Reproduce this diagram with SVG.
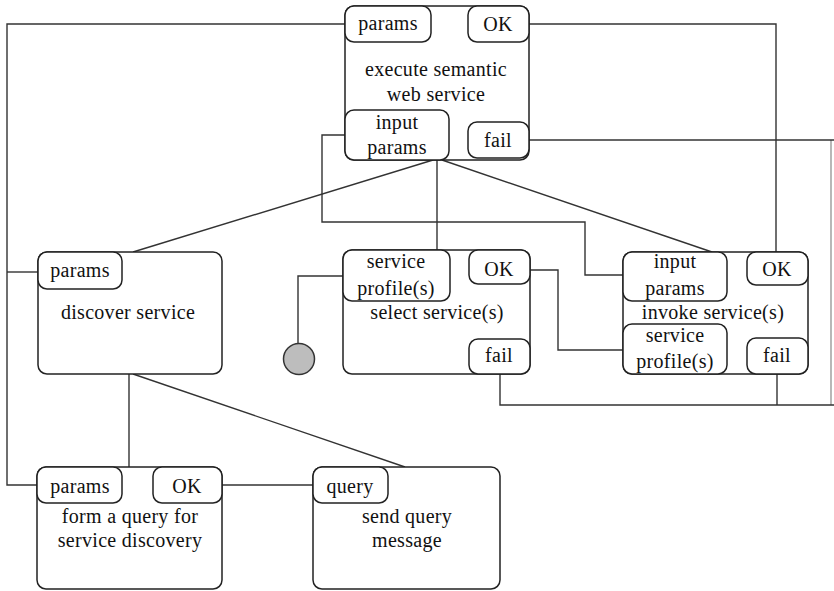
<svg xmlns="http://www.w3.org/2000/svg" width="834" height="591" viewBox="0 0 834 591">
<style>
.box{fill:#fff;stroke:#222;stroke-width:1.5}
.pin{fill:#fff;stroke:#222;stroke-width:1.5}
.ln{fill:none;stroke:#333;stroke-width:1.4}
text{font-family:"Liberation Serif","Times New Roman",serif;font-size:20px;letter-spacing:0.3px;fill:#111;text-anchor:middle}
</style>
<rect width="834" height="591" fill="#fff"/>
<g id="connectors">
<polyline class="ln" points="345,24 7,24 7,485 37,485"/>
<line class="ln" x1="7" y1="272" x2="38" y2="272"/>
<polyline class="ln" points="529,24 776,24 776,252"/>
<line class="ln" x1="529" y1="140" x2="834" y2="140"/>
<line class="ln" x1="831" y1="140" x2="831" y2="405" stroke-opacity="0.5"/>
<polyline class="ln" points="500,374 500,405 834,405"/>
<line class="ln" x1="777" y1="374" x2="777" y2="405"/>
<polyline class="ln" points="345,135 322,135 322,222 585,222 585,275 623,275"/>
<line class="ln" x1="433" y1="160" x2="133" y2="252"/>
<line class="ln" x1="437" y1="160" x2="437" y2="250"/>
<line class="ln" x1="442" y1="160" x2="712" y2="252"/>
<polyline class="ln" points="530,270 558,270 558,350 623,350"/>
<polyline class="ln" points="298,343 298,276 343,276"/>
<line class="ln" x1="129" y1="374" x2="129" y2="467"/>
<line class="ln" x1="133" y1="374" x2="405" y2="467"/>
<line class="ln" x1="222" y1="485" x2="313" y2="485"/>
</g>
<g id="start">
<circle cx="299" cy="359" r="15.5" fill="#bdbdbd" stroke="#333" stroke-width="1.5"/>
</g>
<g id="execute">
<rect class="box" x="345" y="6" width="184" height="154" rx="9"/>
<rect class="pin" x="345" y="6" width="86" height="36" rx="9"/>
<text x="388" y="30">params</text>
<rect class="pin" x="468" y="6" width="61" height="36" rx="9"/>
<text x="498" y="31">OK</text>
<text x="436" y="76">execute semantic</text>
<text x="436" y="101">web service</text>
<rect class="pin" x="345" y="110" width="104" height="50" rx="9"/>
<text x="397" y="129">input</text>
<text x="397" y="154">params</text>
<rect class="pin" x="468" y="122" width="61" height="36" rx="9"/>
<text x="498" y="147">fail</text>
</g>
<g id="discover">
<rect class="box" x="38" y="252" width="184" height="122" rx="9"/>
<rect class="pin" x="38" y="252" width="84" height="37" rx="9"/>
<text x="80" y="277">params</text>
<text x="128" y="319">discover service</text>
</g>
<g id="select">
<rect class="box" x="343" y="250" width="187" height="124" rx="9"/>
<rect class="pin" x="343" y="250" width="107" height="51" rx="9"/>
<text x="396" y="268">service</text>
<text x="396" y="295">profile(s)</text>
<rect class="pin" x="469" y="250" width="61" height="34" rx="9"/>
<text x="499" y="276">OK</text>
<text x="437" y="319">select service(s)</text>
<rect class="pin" x="469" y="339" width="61" height="35" rx="9"/>
<text x="499" y="362">fail</text>
</g>
<g id="invoke">
<rect class="box" x="623" y="252" width="185" height="122" rx="9"/>
<rect class="pin" x="623" y="252" width="104" height="49" rx="9"/>
<text x="675" y="268">input</text>
<text x="675" y="295">params</text>
<rect class="pin" x="747" y="252" width="61" height="33" rx="9"/>
<text x="777" y="276">OK</text>
<text x="713" y="319">invoke service(s)</text>
<rect class="pin" x="623" y="324" width="104" height="50" rx="9"/>
<text x="675" y="342">service</text>
<text x="675" y="368">profile(s)</text>
<rect class="pin" x="747" y="338" width="61" height="36" rx="9"/>
<text x="777" y="362">fail</text>
</g>
<g id="formquery">
<rect class="box" x="37" y="467" width="185" height="122" rx="9"/>
<rect class="pin" x="37" y="467" width="85" height="36" rx="9"/>
<text x="80" y="493">params</text>
<rect class="pin" x="153" y="467" width="69" height="36" rx="9"/>
<text x="187" y="493">OK</text>
<text x="130" y="523">form a query for</text>
<text x="130" y="547">service discovery</text>
</g>
<g id="sendquery">
<rect class="box" x="313" y="467" width="187" height="122" rx="9"/>
<rect class="pin" x="313" y="467" width="75" height="36" rx="9"/>
<text x="350" y="493">query</text>
<text x="407" y="523">send query</text>
<text x="407" y="547">message</text>
</g>
</svg>
